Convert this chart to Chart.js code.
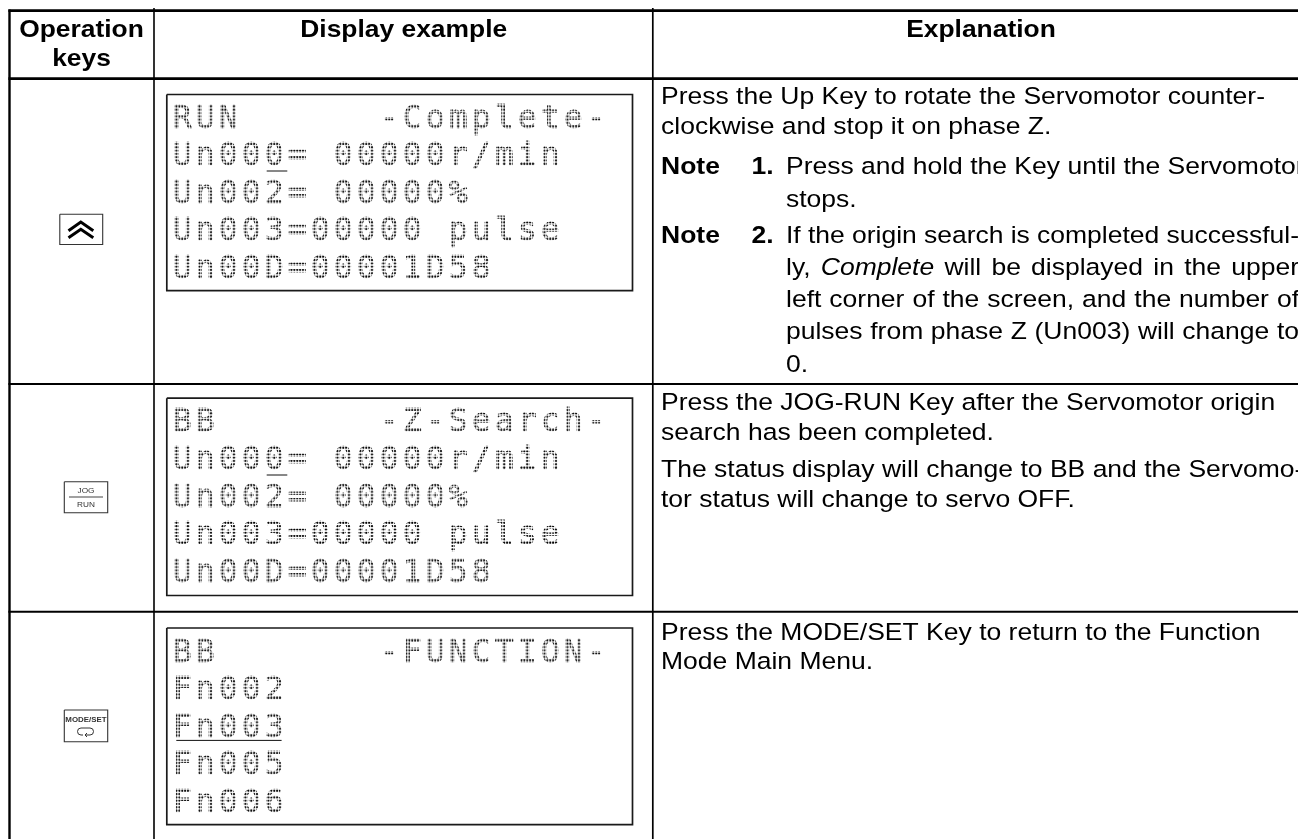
<!DOCTYPE html>
<html><head><meta charset="utf-8">
<style>html,body{margin:0;padding:0;background:#fff}canvas{display:block}</style>
<script src="https://cdn.jsdelivr.net/npm/chart.js@4"></script>
</head><body><canvas id="c" width="1298" height="839"></canvas>
<script>
// ---- table content ----
const columnHeaders = [["Operation","keys"],["Display example"],["Explanation"]];
const keyLabels = ["JOG","RUN","MODE/SET"];
const lcdRow1 = ["RUN      -Complete-","Un000= 00000r/min","Un002= 00000%","Un003=00000 pulse","Un00D=00001D58"];
const lcdRow2 = ["BB       -Z-Search-","Un000= 00000r/min","Un002= 00000%","Un003=00000 pulse","Un00D=00001D58"];
const lcdRow3 = ["BB       -FUNCTION-","Fn002","Fn003","Fn005","Fn006"];
const explainRow1 = [
 "Press the Up Key to rotate the Servomotor counter-",
 "clockwise and stop it on phase Z."];
const note1 = ["Press and hold the Key until the Servomotor","stops."];
const note2 = ["If the origin search is completed successful-","ly, *Complete* will be displayed in the upper",
 "left corner of the screen, and the number of","pulses from phase Z (Un003) will change to","0."];
const explainRow2 = ["Press the JOG-RUN Key after the Servomotor origin","search has been completed.",
 "The status display will change to BB and the Servomo-","tor status will change to servo OFF."];
const explainRow3 = ["Press the MODE/SET Key to return to the Function","Mode Main Menu."];

// ---- layout of the table, in scale units ----
const W = 1298, H = 839;
const colRules = [[9.5,9.5,839,2.4],[154,8,839,1.6],[652.8,8,839,1.7]];
const rowRules = [[10.7,2.7],[78.7,2.7],[384,1.9],[611.7,1.9]];
const lcdBoxes = [[166.8,632.5,94.5,290.7],[166.8,632.5,398.2,595.5],[166.8,632.5,628,824.6]];
const keyBoxes = [[59.8,102.7,214.3,244.5],[64.3,107.7,481.8,512.7],[64.3,107.7,710,741.7]];
const lcdUnderlines = [[266.7,287.3,171],[266.7,287.3,475],[176.3,281.6,740.4]];
const chevrons = [[[68.5,230.7],[80.8,222],[93.3,230.7]],[[68.5,237.7],[80.8,229.3],[93.3,237.7]]];
const jogRule = [[69,103,497]];

const rule = (pts,w,c)=>({data:pts.map(p=>({x:p[0],y:p[1]})),showLine:true,borderColor:c||'#000',borderWidth:w,pointRadius:0,tension:0,fill:false,clip:false});
const datasets = [];
colRules.forEach(r=>datasets.push(rule([[r[0],r[1]],[r[0],r[2]]],r[3])));
rowRules.forEach(r=>datasets.push(rule([[8.4,r[0]],[W,r[0]]],r[1])));
lcdBoxes.forEach(b=>datasets.push(rule([[b[0],b[2]],[b[1],b[2]],[b[1],b[3]],[b[0],b[3]],[b[0],b[2]]],1.7,'#1a1a1a')));
keyBoxes.forEach(b=>datasets.push(rule([[b[0],b[2]],[b[1],b[2]],[b[1],b[3]],[b[0],b[3]],[b[0],b[2]]],1.1,'#333')));
lcdUnderlines.forEach(u=>datasets.push(rule([[u[0],u[2]],[u[1],u[2]]],1,'#111')));
chevrons.forEach(c=>datasets.push(rule(c,3,'#000')));
jogRule.forEach(u=>datasets.push(rule([[u[0],u[2]],[u[1],u[2]]],1.2,'#444')));

// dot lattice for the display text: 8 columns per 23px character cell
const CELL=23, COLS=8, ROWS=10, ROWH=3.3;
function dotPattern(ctx){
  const cv=document.createElement('canvas'), px=CELL/COLS;
  cv.width=CELL; cv.height=Math.round(ROWS*ROWH);
  const g=cv.getContext('2d'); g.fillStyle='#000';
  for(let i=0;i<COLS;i++)for(let j=0;j<ROWS;j++){g.beginPath();g.arc((i+.5)*px,(j+.5)*ROWH,1.05,0,7);g.fill();}
  return ctx.createPattern(cv,'repeat');
}
const sans='"Liberation Sans",Arial,sans-serif', SX=1.1;
const tablePlugin={id:'table',afterDatasetsDraw(chart){
  const ctx=chart.ctx, X=v=>chart.scales.x.getPixelForValue(v), Y=v=>chart.scales.y.getPixelForValue(v);
  ctx.save(); ctx.fillStyle='#000'; ctx.textBaseline='alphabetic';
  const wide=(s,x,y)=>{ctx.save();ctx.translate(X(x),Y(y));ctx.scale(SX,1);ctx.fillText(s,0,0);ctx.restore();};
  const mw=s=>ctx.measureText(s).width*SX;
  // headers
  ctx.font='bold 24px '+sans; ctx.textAlign='center';
  wide(columnHeaders[0][0],81.5,36.7);
  wide(columnHeaders[0][1],81.5,66);
  wide(columnHeaders[1][0],403.7,36.7);
  wide(columnHeaders[2][0],981,36.7);
  // body text
  ctx.textAlign='left';
  const body=24.1, reg=body+'px '+sans, ital='italic '+body+'px '+sans;
  const put=(s,x,y,target)=>{
    const ws=s.split(' ').map(t=>{const it=t.startsWith('*');const txt=t.replace(/\*/g,'');ctx.font=it?ital:reg;return{txt,it,w:mw(txt)};});
    ctx.font=reg; let gap=mw(' ');
    if(target&&ws.length>1){gap=(target-ws.reduce((a,b)=>a+b.w,0))/(ws.length-1);}
    let cx=x; ws.forEach(o=>{ctx.font=o.it?ital:reg;wide(o.txt,cx,y);cx+=o.w+gap;});
  };
  const tx=661, nx=786, rw=1299-nx;
  put(explainRow1[0],tx,104); put(explainRow1[1],tx,134);
  ctx.font='bold '+body+'px '+sans;
  wide('Note',tx,174); wide('Note',tx,242.7);
  ctx.textAlign='right'; wide('1.',773.5,174); wide('2.',773.5,242.7); ctx.textAlign='left';
  put(note1[0],nx,174); put(note1[1],nx,206.5);
  const n2y=[242.7,275,307.3,339.3,371.7];
  note2.forEach((s,i)=>put(s,nx,n2y[i],i<4?rw:0));
  [410,440,476.5,506.5].forEach((y,i)=>put(explainRow2[i],tx,y));
  [640,669].forEach((y,i)=>put(explainRow3[i],tx,y));
  // keys
  ctx.textAlign='center'; ctx.fillStyle='#333'; ctx.font='7.5px '+sans;
  wide(keyLabels[0],86,493); wide(keyLabels[1],86,507);
  ctx.font='bold 7.2px '+sans; wide(keyLabels[2],86,722);
  ctx.strokeStyle='#333'; ctx.lineWidth=1; ctx.beginPath();
  ctx.moveTo(X(83),Y(735)); ctx.lineTo(X(81),Y(735)); ctx.arc(X(81),Y(731.5),3.5,Math.PI/2,Math.PI*1.5); ctx.lineTo(X(90),Y(728));
  ctx.arc(X(90),Y(731.5),3.5,-Math.PI/2,Math.PI/2); ctx.lineTo(X(85),Y(735));
  ctx.moveTo(X(87),Y(733)); ctx.lineTo(X(85),Y(735)); ctx.lineTo(X(87),Y(737)); ctx.stroke();
  // display text, filled through the dot lattice anchored to each line's origin
  ctx.textAlign='left';
  ctx.font='31.5px "DejaVu Sans Mono",monospace';
  const adv=ctx.measureText('0').width;
  ctx.letterSpacing=(CELL-adv)+'px';
  const pat=dotPattern(ctx), ox=172.8, lcdY=[127.7,165.3,202.8,240.4,278];
  ctx.lineWidth=0.8; ctx.lineJoin='round';
  const line=(s,y)=>{
    pat.setTransform(new DOMMatrix().translate(X(ox)+3.7-CELL/COLS/2,Y(y)-1.5-ROWH/2));
    ctx.fillStyle=pat; ctx.strokeStyle=pat;
    ctx.fillText(s,X(ox),Y(y)); ctx.strokeText(s,X(ox),Y(y));
  };
  lcdRow1.forEach((s,i)=>line(s,lcdY[i]));
  lcdRow2.forEach((s,i)=>line(s,lcdY[i]+303.7));
  lcdRow3.forEach((s,i)=>line(s,lcdY[i]+534));
  ctx.restore();
}};
new Chart(document.getElementById('c'),{type:'scatter',data:{datasets},plugins:[tablePlugin],options:{
  responsive:false,animation:false,devicePixelRatio:1,layout:{padding:0},
  plugins:{legend:{display:false},tooltip:{enabled:false},title:{display:false}},
  scales:{x:{type:'linear',min:0,max:W,display:false},y:{type:'linear',min:0,max:H,reverse:true,display:false}}
}});
</script></body></html>
